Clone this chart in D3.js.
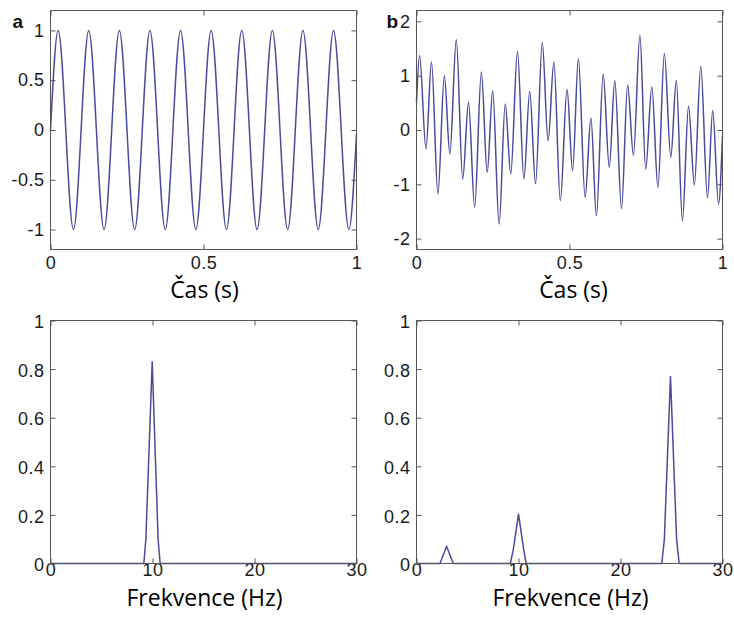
<!DOCTYPE html>
<html>
<head>
<meta charset="utf-8">
<script src="https://cdn.jsdelivr.net/npm/d3@7"></script>
<style>
  body { margin: 0; background: #fff; }
  .tick text { font-family: "Liberation Sans", Arial, sans-serif; font-size: 18px; fill: #1a1a1a; letter-spacing: 0.5px; }
  .tick line { stroke: #555; }
  .title { font-family: "Open Sans", Lato, sans-serif; font-size: 23px; fill: #000; }
  .letter { font-family: "Liberation Sans", Arial, sans-serif; font-size: 19px; font-weight: bold; fill: #111; }
</style>
</head>
<body>
<div id="chart"></div>
<script>
// panel a: 10 Hz sine, extrema
var sineT = [0, 0.025, 0.075, 0.125, 0.175, 0.225, 0.275, 0.325, 0.375, 0.425, 0.475,
             0.525, 0.575, 0.625, 0.675, 0.725, 0.775, 0.825, 0.875, 0.925, 0.975, 1];
var sineV = [0, 1, -1, 1, -1, 1, -1, 1, -1, 1, -1,
             1, -1, 1, -1, 1, -1, 1, -1, 1, -1, -0.04];

// panel b: mixed signal, extrema
var sigT = [0, 0.010, 0.031, 0.049, 0.070, 0.091, 0.109, 0.130, 0.151, 0.170, 0.190, 0.212, 0.231,
            0.249, 0.270, 0.290, 0.308, 0.330, 0.351, 0.370, 0.389, 0.411, 0.430, 0.449, 0.470,
            0.492, 0.510, 0.529, 0.551, 0.570, 0.588, 0.610, 0.630, 0.648, 0.670, 0.690, 0.709,
            0.730, 0.749, 0.769, 0.789, 0.810, 0.831, 0.849, 0.869, 0.889, 0.908, 0.929, 0.951,
            0.968, 0.987, 1.0];
var sigV = [0.5, 1.37, -0.35, 1.25, -1.18, 1.0, -0.44, 1.66, -0.90, 0.51, -1.42, 1.07, -0.78,
            0.72, -1.73, 0.48, -0.81, 1.45, -0.90, 0.71, -0.99, 1.61, -0.20, 1.25, -1.30,
            0.75, -0.75, 1.31, -1.24, 0.22, -1.58, 1.03, -0.69, 0.91, -1.45, 0.83, -0.47,
            1.74, -0.72, 0.79, -1.06, 1.41, -0.50, 0.91, -1.67, 0.44, -1.01, 1.17, -1.25,
            0.36, -1.36, -0.10];

// spectra
var specAF = [0, 9.15, 9.35, 9.97, 10.55, 10.75, 30];
var specAV = [0, 0, 0.1, 0.83, 0.1, 0, 0];
var specBF = [0, 2.3, 2.95, 3.6, 9.2, 9.5, 10, 10.5, 10.75, 24.05, 24.3, 24.9, 25.5, 25.75, 30];
var specBV = [0, 0, 0.071, 0, 0, 0.06, 0.203, 0.06, 0, 0, 0.1, 0.77, 0.1, 0, 0];

var timeTicks = [0, 0.5, 1];
var freqTicks = [0, 10, 20, 30];
var ampTicksA = [-1, -0.5, 0, 0.5, 1];
var ampTicksB = [-2, -1, 0, 1, 2];
var magTicks = [0, 0.2, 0.4, 0.6, 0.8, 1];

var svg = d3.select("#chart").append("svg")
    .attr("width", 734)
    .attr("height", 619);

function drawPanel(p) {
    var g = svg.append("g").attr("transform", "translate(" + p.x + "," + p.y + ")");

    var x = d3.scaleLinear().domain(p.xDomain).range([0, p.w]);
    var y = d3.scaleLinear().domain(p.yDomain).range([p.h, 0]);

    var fmt = function (d) { return String(d); };

    g.append("g").attr("class", "axis")
        .call(d3.axisLeft(y).tickValues(p.yTicks).tickFormat(fmt).tickSizeInner(-5).tickSizeOuter(0).tickPadding(6))
        .call(function (a) { a.select(".domain").remove(); })
        .selectAll("text").attr("dy", p.yDy);

    g.append("g").attr("transform", "translate(" + p.w + ",0)")
        .call(d3.axisRight(y).tickValues(p.yTicks).tickFormat("").tickSizeInner(-5).tickSizeOuter(0))
        .select(".domain").remove();

    g.append("g").attr("transform", "translate(0," + p.h + ")")
        .call(d3.axisBottom(x).tickValues(p.xTicks).tickFormat(fmt).tickSizeInner(-5).tickSizeOuter(0).tickPadding(p.xPad))
        .select(".domain").remove();

    g.append("g")
        .call(d3.axisTop(x).tickValues(p.xTicks).tickFormat("").tickSizeInner(-5).tickSizeOuter(0))
        .select(".domain").remove();

    var line = d3.line()
        .x(function (d) { return x(d[0]); })
        .y(function (d) { return y(d[1]); })
        .curve(p.curve);

    g.append("path")
        .datum(d3.zip(p.xs, p.ys))
        .attr("d", line)
        .attr("fill", "none")
        .attr("stroke", "#4b4b9e")
        .attr("stroke-width", 1.5)
        .attr("stroke-linejoin", "round");

    g.append("rect")
        .attr("width", p.w)
        .attr("height", p.h)
        .attr("fill", "none")
        .attr("stroke", "#555")
        .attr("stroke-width", 1);

    g.append("text").attr("class", "title")
        .attr("x", p.w / 2 + p.titleDx)
        .attr("y", p.titleY)
        .attr("text-anchor", "middle")
        .text(p.title);

    if (p.letter) {
        g.append("text").attr("class", "letter")
            .attr("x", p.letterX)
            .attr("y", 17.5)
            .text(p.letter);
    }
}

drawPanel({x: 50.5, y: 10.5, w: 306, h: 239, xDomain: [0, 1], yDomain: [-1.2, 1.2],
    xTicks: timeTicks, yTicks: ampTicksA, xs: sineT, ys: sineV, curve: d3.curveMonotoneX,
    xPad: 7, yDy: "0.32em", title: "Čas (s)", titleDx: 1, titleY: 287, letter: "a", letterX: -38});

drawPanel({x: 416.5, y: 10.5, w: 306, h: 239, xDomain: [0, 1], yDomain: [-2.2, 2.2],
    xTicks: timeTicks, yTicks: ampTicksB, xs: sigT, ys: sigV, curve: d3.curveMonotoneX,
    xPad: 7, yDy: "0.32em", title: "Čas (s)", titleDx: 4, titleY: 287, letter: "b", letterX: -30});

drawPanel({x: 50.5, y: 320.5, w: 306, h: 243, xDomain: [0, 30], yDomain: [0, 1],
    xTicks: freqTicks, yTicks: magTicks, xs: specAF, ys: specAV, curve: d3.curveLinear,
    xPad: 0, yDy: "0.4em", title: "Frekvence (Hz)", titleDx: 1, titleY: 285, letter: null});

drawPanel({x: 416.5, y: 320.5, w: 306, h: 243, xDomain: [0, 30], yDomain: [0, 1],
    xTicks: freqTicks, yTicks: magTicks, xs: specBF, ys: specBV, curve: d3.curveLinear,
    xPad: 0, yDy: "0.4em", title: "Frekvence (Hz)", titleDx: 1, titleY: 285, letter: null});
</script>
</body>
</html>
